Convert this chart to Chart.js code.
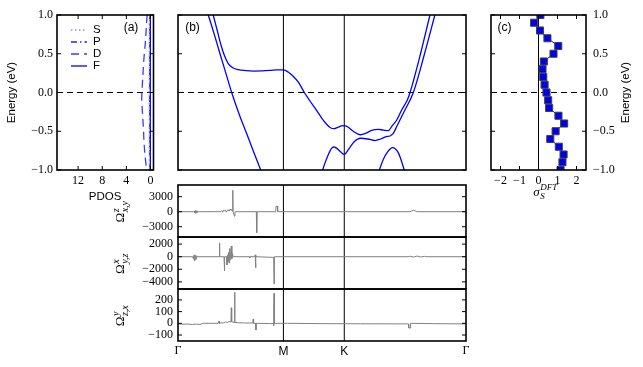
<!DOCTYPE html>
<html>
<head>
<meta charset="utf-8">
<script src="https://cdn.jsdelivr.net/npm/chart.js@4/dist/chart.umd.min.js"></script>
<style>
  html, body { margin: 0; padding: 0; background: #fff; }
  #wrap { position: relative; width: 643px; height: 367px; }
  #wrap canvas { position: absolute; left: 0; top: 0; }
</style>
</head>
<body>
<div id="wrap"></div>
<script>
// ---------- data ----------
const energyGrid = [1.0, 0.9, 0.8, 0.7, 0.6, 0.5, 0.4, 0.3, 0.2, 0.1, 0.0,
                    -0.1, -0.2, -0.3, -0.4, -0.5, -0.6, -0.7, -0.8, -0.9, -1.0];
const pdosS = [0.18, 0.18, 0.19, 0.19, 0.20, 0.20, 0.20, 0.21, 0.21, 0.21, 0.22,
               0.22, 0.21, 0.21, 0.20, 0.20, 0.20, 0.19, 0.19, 0.18, 0.18];
const pdosP = [0.10, 0.10, 0.11, 0.11, 0.12, 0.12, 0.12, 0.13, 0.13, 0.13, 0.14,
               0.14, 0.13, 0.13, 0.12, 0.12, 0.12, 0.11, 0.11, 0.10, 0.10];
const pdosD = [0.55, 0.65, 0.72, 0.80, 0.90, 1.02, 1.12, 1.20, 1.27, 1.35, 1.42,
               1.45, 1.38, 1.30, 1.22, 1.15, 1.10, 1.02, 0.92, 0.78, 0.65];
const pdosF = [0.02, 0.02, 0.02, 0.02, 0.02, 0.02, 0.03, 0.03, 0.03, 0.03, 0.03,
               0.03, 0.03, 0.03, 0.03, 0.02, 0.02, 0.02, 0.02, 0.02, 0.02];
const pdosNames = ['S', 'P', 'D', 'F'];

const sigmaS = [0.10, -0.23, 0.08, 0.47, 1.04, 0.79, 0.28, 0.21, 0.25, 0.32, 0.42,
                0.51, 0.56, 1.05, 1.35, 0.90, 0.62, 1.07, 1.32, 1.26, 1.16];

// k-path: Γ - M - K - Γ
const kTicks = [0, 0.5774, 0.9107, 1.5774];
const kLabels = ['Γ', 'M', 'K', 'Γ'];

const band1K = [0.13, 0.166, 0.20, 0.23, 0.262, 0.294, 0.335, 0.376, 0.415, 0.453, 0.48];
const band1E = [1.28, 1.0, 0.74, 0.5, 0.25, 0.0, -0.28, -0.53, -0.77, -1.0, -1.16];

const band2K = [0.17, 0.193, 0.215, 0.237, 0.257, 0.276, 0.30, 0.33, 0.37, 0.413, 0.46, 0.504,
                0.545, 0.577, 0.605, 0.631, 0.66, 0.692, 0.72, 0.759, 0.79, 0.814, 0.835, 0.854,
                0.875, 0.895, 0.911, 0.93, 0.96, 0.998, 1.03, 1.06, 1.097, 1.125, 1.152, 1.17,
                1.198, 1.225, 1.256, 1.271, 1.329, 1.38, 1.40];
const band2E = [1.2, 1.0, 0.8, 0.6, 0.46, 0.37, 0.32, 0.295, 0.283, 0.277, 0.279, 0.285,
                0.293, 0.292, 0.262, 0.21, 0.13, 0.0, -0.1, -0.23, -0.34, -0.41, -0.455, -0.467,
                -0.45, -0.432, -0.428, -0.445, -0.5, -0.545, -0.525, -0.49, -0.475, -0.485, -0.493, -0.44,
                -0.355, -0.226, -0.097, 0.0, 0.506, 1.0, 1.19];

const band3K = [0.77, 0.792, 0.82, 0.84, 0.853, 0.866, 0.89, 0.911, 0.935, 0.965, 1.0, 1.04,
                1.079, 1.11, 1.14, 1.161, 1.179, 1.2, 1.243, 1.289, 1.351, 1.407, 1.43];
const band3E = [-1.18, -1.0, -0.82, -0.725, -0.703, -0.715, -0.765, -0.798, -0.73, -0.635, -0.59, -0.6,
                -0.62, -0.6, -0.57, -0.561, -0.527, -0.43, -0.226, 0.0, 0.506, 1.0, 1.2];

const band4K = [1.09, 1.103, 1.125, 1.15, 1.165, 1.176, 1.188, 1.205, 1.222, 1.239, 1.25];
const band4E = [-1.1, -1.0, -0.86, -0.76, -0.722, -0.712, -0.722, -0.77, -0.87, -1.0, -1.09];

// Berry curvature components along the path
const omegaZxyK = [0, 0.085, 0.089, 0.092, 0.095, 0.098, 0.101, 0.104, 0.107, 0.11,
                   0.2, 0.235, 0.24, 0.245, 0.25, 0.255, 0.26, 0.265, 0.27, 0.275,
                   0.28, 0.285, 0.29, 0.295, 0.298, 0.3, 0.302, 0.306, 0.309, 0.312,
                   0.315, 0.429, 0.431, 0.433, 0.535, 0.537, 0.544, 0.546, 1.27, 1.28,
                   1.29, 1.30, 1.31, 1.5774];
const omegaZxyV = [0, 0, 150, -250, 200, -300, 150, -200, 100, 0,
                   0, 0, 200, -100, 300, 150, 350, -100, 250, 400,
                   100, 500, 300, 400, 100, 4300, 0, 0, -900, 0,
                   0, 0, -4200, 0, 0, 1100, 1100, 0, 0, 150,
                   300, 150, 0, 0];

const omegaXyzK = [0, 0.08, 0.083, 0.086, 0.089, 0.092, 0.095, 0.098, 0.101, 0.105,
                   0.11, 0.22, 0.225, 0.227, 0.229, 0.25, 0.252, 0.254, 0.256, 0.265,
                   0.268, 0.271, 0.274, 0.277, 0.28, 0.283, 0.286, 0.289, 0.292, 0.295,
                   0.298, 0.302, 0.39, 0.393, 0.396, 0.4, 0.421, 0.423, 0.425, 0.427,
                   0.515, 0.524, 0.526, 0.528, 1.26, 1.27, 1.29, 1.31, 1.33, 1.35,
                   1.36, 1.5774];
const omegaXyzV = [0, 0, -300, 200, -600, 300, -500, 200, -300, 100,
                   0, 0, 0, 2200, 0, 0, 0, -2250, 0, 0,
                   -1300, 300, -800, 700, -1000, 1300, -500, 900, 1700, -300,
                   500, 0, 0, -200, 100, 0, 0, 300, -1750, 0,
                   -100, -100, -4330, 0, 0, 80, -60, 100, -50, 60,
                   0, 0];

const omegaYzxK = [0, 0.02, 0.05, 0.08, 0.1, 0.12, 0.14, 0.22, 0.225, 0.227,
                   0.235, 0.25, 0.26, 0.27, 0.28, 0.29, 0.292, 0.294, 0.3, 0.308,
                   0.31, 0.312, 0.33, 0.36, 0.41, 0.412, 0.414, 0.426, 0.427, 0.428,
                   0.5, 0.522, 0.524, 0.526, 0.528, 0.6, 0.8, 1.0, 1.262, 1.264,
                   1.272, 1.274, 1.4, 1.5774];
const omegaYzxV = [-3, -8, -6, -10, -6, -10, 0, 0, 20, 0,
                   3, 5, 10, 8, 15, 12, 133, 12, 10, 10,
                   265, 8, 5, 3, 3, 37, 0, 0, -57, 0,
                   -2, -2, -20, 256, 0, 0, -3, -4, -5, -40,
                   -40, 0, -3, -5];

// axis limits and ticks
const energyRange = [-1, 1];
const energyTicks = [-1, -0.5, 0, 0.5, 1];
const pdosRange = [-0.5, 15.5];
const pdosTicks = [0, 4, 8, 12];
const sigmaRange = [-2.5, 2.5];
const sigmaTicks = [-2, -1, 0, 1, 2];
const kRange = [0, 1.5774];
const omegaZxyRange = [-5060, 5340];
const omegaZxyTicks = [-3000, 0, 3000];
const omegaXyzRange = [-5130, 3130];
const omegaXyzTicks = [-4000, -2000, 0, 2000];
const omegaYzxRange = [-151, 293];
const omegaYzxTicks = [-100, 0, 100, 200];

// ---------- helpers ----------
const W = 643, H = 367;
const serif = '"Liberation Serif", "DejaVu Serif", serif';
const sans = '"Liberation Sans", "DejaVu Sans", sans-serif';
const tickFont = { family: serif, size: 12 };
const minus = s => String(s).replace('-', '\u2212');
const fmt1 = v => minus(Number(v).toFixed(1));
const fmt0 = v => minus(v);
const pts = (xs, ys) => xs.map((x, i) => ({ x, y: ys[i] }));

const wrap = document.getElementById('wrap');
function newCanvas() {
  const c = document.createElement('canvas');
  c.width = W; c.height = H;
  c.style.width = W + 'px'; c.style.height = H + 'px';
  wrap.appendChild(c);
  return c;
}

function axis(pos, range, ticks, size, tickOpts, reverse) {
  return {
    type: 'linear', position: pos, min: range[0], max: range[1], reverse: !!reverse,
    display: size > 0,
    grid: { display: false, drawTicks: false },
    border: { display: false },
    afterBuildTicks: s => { s.ticks = ticks.map(v => ({ value: v })); },
    afterFit: s => { if (pos === 'bottom') s.height = size; else s.width = size; },
    ticks: Object.assign({ autoSkip: false, maxRotation: 0, color: '#000', font: tickFont, padding: 4 }, tickOpts || {})
  };
}

function drawLabel(ctx, t) {
  ctx.save();
  ctx.translate(t.x, t.y);
  if (t.rot) ctx.rotate(t.rot);
  ctx.fillStyle = '#000';
  ctx.textBaseline = 'middle';
  if (t.text) {
    ctx.font = t.font || `12px ${sans}`;
    ctx.textAlign = 'center';
    ctx.fillText(t.text, 0, 0);
  } else {
    const [base, sup, sub] = t.rich;
    ctx.font = t.font; const wb = ctx.measureText(base).width;
    ctx.font = t.small;
    const ws = Math.max(ctx.measureText(sup).width, ctx.measureText(sub).width);
    const x0 = -(wb + ws) / 2;
    ctx.textAlign = 'left';
    ctx.font = t.font; ctx.fillText(base, x0, 0);
    ctx.font = t.small;
    ctx.fillText(sup, x0 + wb + 0.5, -5);
    ctx.fillText(sub, x0 + wb + 0.5, 4);
  }
  ctx.restore();
}

// matplotlib-like frame: box, inward ticks, annotations
function frame(deco) {
  return {
    id: 'mplFrame',
    afterDatasetsDraw(chart) {
      const { ctx, chartArea: a, scales } = chart;
      ctx.save();
      ctx.strokeStyle = '#000';
      ctx.lineWidth = 1;
      ctx.beginPath();
      (deco.yt || []).forEach(v => {
        const y = scales.y.getPixelForValue(v);
        ctx.moveTo(a.left, y); ctx.lineTo(a.left + 4, y);
        ctx.moveTo(a.right - 4, y); ctx.lineTo(a.right, y);
      });
      (deco.xt || []).forEach(v => {
        const x = scales.x.getPixelForValue(v);
        ctx.moveTo(x, a.top); ctx.lineTo(x, a.top + 4);
        ctx.moveTo(x, a.bottom - 4); ctx.lineTo(x, a.bottom);
      });
      ctx.stroke();
      ctx.lineWidth = 1.6;
      ctx.strokeRect(a.left, a.top, a.right - a.left, a.bottom - a.top);
      (deco.texts || []).forEach(t => drawLabel(ctx, t));
      const lg = deco.legend;
      if (lg) {
        chart.data.datasets.filter(d => d.label).forEach((d, i) => {
          const y = lg.y0 + i * lg.dy;
          ctx.setLineDash(d.borderDash || []);
          ctx.strokeStyle = d.borderColor;
          ctx.lineWidth = d.borderWidth;
          ctx.beginPath(); ctx.moveTo(lg.x0, y); ctx.lineTo(lg.x1, y); ctx.stroke();
          ctx.setLineDash([]);
          ctx.fillStyle = '#000';
          ctx.font = lg.font;
          ctx.textAlign = 'left';
          ctx.textBaseline = 'middle';
          ctx.fillText(d.label, lg.tx, y);
        });
      }
      ctx.restore();
    }
  };
}

// area = [left, top, right, bottom] of the plotting box; yW/xH = axis box sizes
function panel(area, yW, xH, yRight, scales, datasets, deco) {
  const [L, T, R, B] = area;
  const padding = {
    left: yRight ? L : L - yW,
    right: yRight ? W - R - yW : W - R,
    top: T,
    bottom: H - B - xH
  };
  return new Chart(newCanvas(), {
    type: 'line',
    data: { datasets },
    options: {
      responsive: false, animation: false, devicePixelRatio: 1,
      layout: { padding },
      plugins: { legend: { display: false }, tooltip: { enabled: false } },
      elements: { point: { radius: 0 }, line: { borderJoinStyle: 'round' } },
      scales
    },
    plugins: [frame(deco)]
  });
}

const vline = (x, r) => ({ data: [{ x, y: r[0] }, { x, y: r[1] }], borderColor: '#000', borderWidth: 1 });
const zeroLine = (x0, x1) => ({ data: [{ x: x0, y: 0 }, { x: x1, y: 0 }], borderColor: '#000', borderWidth: 1, borderDash: [6, 4] });
const band = (k, e) => ({ data: pts(k, e), borderColor: '#0000ff', borderWidth: 1.3, cubicInterpolationMode: 'monotone' });
const curve = (k, v) => ({ data: pts(k, v), borderColor: '#808080', borderWidth: 1 });

// ---------- (a) PDOS ----------
const pdosSeries = [pdosS, pdosP, pdosD, pdosF];
const pdosStyles = [
  { borderColor: '#8c8cff', borderDash: [1.5, 2.5] },
  { borderColor: '#2222ff', borderDash: [6, 3, 1.5, 3] },
  { borderColor: '#3a3aff', borderDash: [8, 5] },
  { borderColor: '#0000ff', borderDash: [] }
];
panel([57, 15, 153.5, 170], 57, 20, false, {
  x: axis('bottom', pdosRange, pdosTicks, 20, { callback: fmt0 }, true),
  y: axis('left', energyRange, energyTicks, 57, { callback: fmt1 })
}, [
  ...pdosSeries.map((s, i) => Object.assign({ label: pdosNames[i], data: pts(s, energyGrid), borderWidth: 1.3, tension: 0.3 }, pdosStyles[i])),
  zeroLine(pdosRange[1], pdosRange[0])
], {
  xt: pdosTicks, yt: energyTicks,
  texts: [
    { text: 'Energy (eV)', x: 12, y: 92.5, rot: -Math.PI / 2, font: `11.5px ${sans}` },
    { text: 'PDOS', x: 105, y: 197, font: `11.5px ${sans}` },
    { text: '(a)', x: 131, y: 28, font: `12px ${sans}` }
  ],
  legend: { x0: 71, x1: 87, tx: 93, y0: 30, dy: 12, font: `11.5px ${sans}` }
});

// ---------- (b) bands ----------
panel([178, 15, 466, 170], 0, 0, false, {
  x: axis('bottom', kRange, kTicks, 0),
  y: axis('left', energyRange, energyTicks, 0)
}, [
  band(band1K, band1E), band(band2K, band2E), band(band3K, band3E), band(band4K, band4E),
  zeroLine(kRange[0], kRange[1]),
  vline(kTicks[1], energyRange), vline(kTicks[2], energyRange)
], {
  yt: energyTicks,
  texts: [{ text: '(b)', x: 192.5, y: 28, font: `12px ${sans}` }]
});

// ---------- (c) sigma ----------
panel([491, 15, 586, 170], 40, 20, true, {
  x: axis('bottom', sigmaRange, sigmaTicks, 20, { callback: fmt0 }),
  y: axis('right', energyRange, energyTicks, 40, { callback: fmt1, padding: 7 })
}, [
  { data: pts(sigmaS, energyGrid), borderColor: '#0000ff', borderWidth: 1,
    pointStyle: 'rect', pointRadius: 5.0, pointBackgroundColor: '#0000ee',
    pointBorderColor: '#404040', pointBorderWidth: 1 },
  zeroLine(sigmaRange[0], sigmaRange[1]),
  vline(0, energyRange)
], {
  xt: sigmaTicks, yt: energyTicks,
  texts: [
    { text: '(c)', x: 504.5, y: 28, font: `12px ${sans}` },
    { text: 'Energy (eV)', x: 626, y: 92.5, rot: -Math.PI / 2, font: `11.5px ${sans}` },
    { rich: ['σ', 'DFT', 'S'], x: 545, y: 193, font: `italic 13px ${serif}`, small: `italic 9px ${serif}` }
  ]
});

// ---------- Berry curvature panels ----------
const omegaPanels = [
  { area: [178, 185, 466, 237], k: omegaZxyK, v: omegaZxyV, range: omegaZxyRange, ticks: omegaZxyTicks, lab: ['Ω', 'z', 'x,y'] },
  { area: [178, 237, 466, 289], k: omegaXyzK, v: omegaXyzV, range: omegaXyzRange, ticks: omegaXyzTicks, lab: ['Ω', 'x', 'y,z'] },
  { area: [178, 289, 466, 341], k: omegaYzxK, v: omegaYzxV, range: omegaYzxRange, ticks: omegaYzxTicks, lab: ['Ω', 'y', 'z,x'] }
];
omegaPanels.forEach((p, idx) => {
  const last = idx === omegaPanels.length - 1;
  const xH = last ? 20 : 0;
  panel(p.area, 60, xH, false, {
    x: axis('bottom', kRange, kTicks, xH, {
      padding: 3,
      callback: (v, i) => kLabels[i],
      font: c => ({ family: kLabels[c.index] === 'Γ' ? serif : sans, size: 12 })
    }),
    y: axis('left', p.range, p.ticks, 60, { callback: fmt0, padding: 5 })
  }, [
    curve(p.k, p.v),
    vline(kTicks[1], p.range), vline(kTicks[2], p.range)
  ], {
    yt: p.ticks,
    texts: [{ rich: p.lab, x: 121, y: (p.area[1] + p.area[3]) / 2 + 1, rot: -Math.PI / 2,
              font: `13px ${serif}`, small: `italic 10px ${serif}` }]
  });
});
</script>
</body>
</html>
